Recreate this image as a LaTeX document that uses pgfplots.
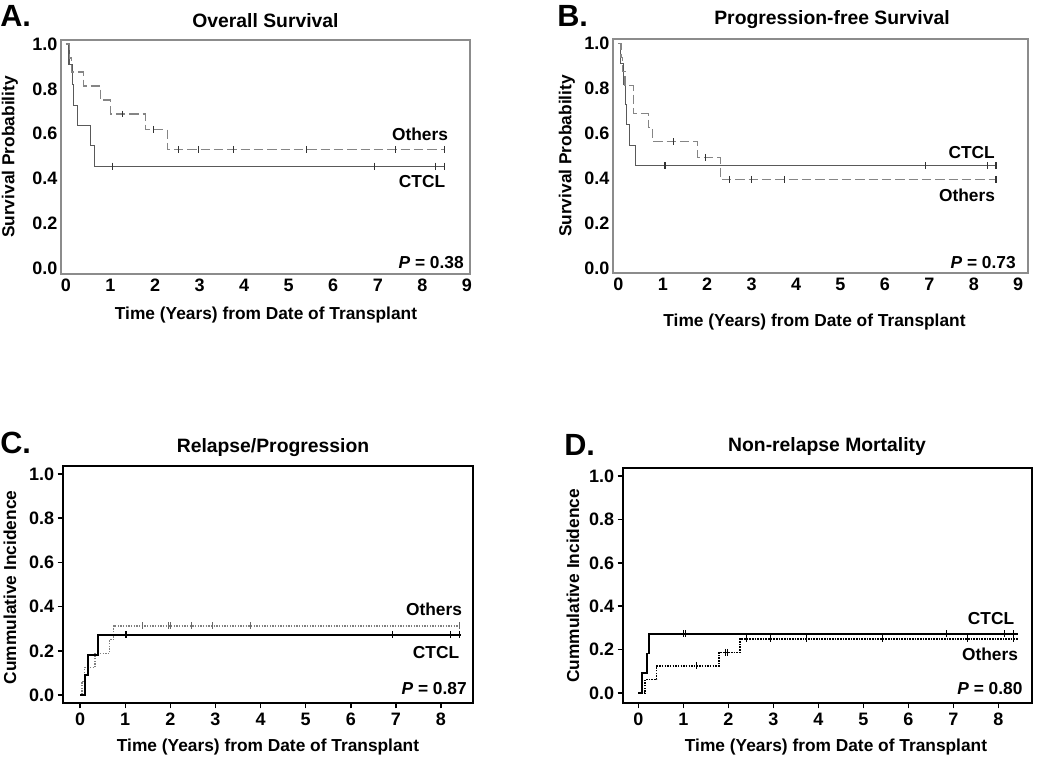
\documentclass[border=0pt]{standalone}
\usepackage{fontspec}
\setmainfont{Liberation Sans}
\usepackage{pgfplots}
\pgfplotsset{compat=1.18}
\definecolor{framegray}{gray}{0.55}
\definecolor{ctclgray}{gray}{0.35}
\definecolor{othgray}{gray}{0.52}
\definecolor{censgray}{gray}{0.2}
\pgfplotsset{
  km/.style={
    scale only axis, axis on top,
    /pgf/number format/assume math mode=true,
    /pgf/number format/fixed, /pgf/number format/fixed zerofill,
    tick label style={font=\fontsize{13.5}{13.5}\selectfont\bfseries},
    ytick={0,0.2,0.4,0.6,0.8,1.0},
    yticklabel style={/pgf/number format/precision=1, inner sep=2.5pt},
    xticklabel style={/pgf/number format/precision=0},
    clip=false,
  },
  kmtop/.style={km, axis line style={framegray, line width=0.8pt}, major tick length=0pt,
    xtick={0,...,9}},
  kmbot/.style={km, axis line style={black, line width=1.3pt}, tick pos=left, tick align=outside,
    major tick length=4pt, tick style={black, line width=1.1pt}, xtick={0,...,8}},
  cens/.style={only marks, mark=|, mark size=2.6pt, mark options={line width=0.8pt}},
}
\begin{document}
\begin{tikzpicture}
\useasboundingbox (0,0) rectangle (787.5pt,576pt);
% ---------------- A ----------------
\begin{axis}[kmtop, at={(45.75pt,370.5pt)}, anchor=south west, width=306.75pt, height=175.5pt,
  xmin=-0.11, xmax=9.07, ymin=-0.027, ymax=1.018]
\addplot[const plot, ctclgray, line width=0.8pt] coordinates {(0,1) (0.07,0.909) (0.14,0.818) (0.17,0.727) (0.25,0.636) (0.56,0.545) (0.64,0.455) (8.5,0.455)};
\addplot[const plot, othgray, line width=0.8pt, dash pattern=on 7pt off 3pt] coordinates {(0,1) (0.08,0.9375) (0.13,0.875) (0.40,0.8125) (0.77,0.75) (1.0,0.6875) (1.78,0.619) (2.27,0.53) (8.5,0.53)};
\addplot[cens, censgray] coordinates {(1.05,0.455) (6.92,0.455) (8.3,0.455) (8.5,0.455)};
\addplot[cens, censgray] coordinates {(1.27,0.6875) (1.97,0.619) (2.53,0.53) (2.98,0.53) (3.77,0.53) (5.40,0.53) (7.40,0.53) (8.49,0.53)};
\end{axis}
% ---------------- B ----------------
\begin{axis}[kmtop, at={(459.75pt,371.25pt)}, anchor=south west, width=311.25pt, height=175.5pt,
  xmin=-0.12, xmax=9.22, ymin=-0.022, ymax=1.018]
\addplot[const plot, ctclgray, line width=0.8pt] coordinates {(0,1) (0.05,0.909) (0.11,0.818) (0.17,0.727) (0.19,0.636) (0.25,0.545) (0.39,0.455) (8.5,0.455)};
\addplot[const plot, othgray, line width=0.8pt, dash pattern=on 7pt off 3pt] coordinates {(0,1) (0.06,0.9375) (0.10,0.875) (0.15,0.8125) (0.34,0.6875) (0.68,0.625) (0.77,0.5625) (1.79,0.492) (2.29,0.394) (8.5,0.394)};
\addplot[cens, censgray] coordinates {(1.05,0.455) (6.92,0.455) (8.31,0.455) (8.5,0.455)};
\addplot[cens, censgray] coordinates {(1.25,0.5625) (1.97,0.492) (2.51,0.394) (2.99,0.394) (3.75,0.394) (8.5,0.394)};
\end{axis}
% ---------------- C ----------------
\begin{axis}[kmbot, at={(47.25pt,48.75pt)}, anchor=south west, width=307.5pt, height=177.75pt,
  xmin=-0.38, xmax=8.71, ymin=-0.036, ymax=1.036]
\addplot[const plot, gray, line width=1.0pt, dash pattern=on 1pt off 1pt] coordinates {(0,0) (0.04,0.0625) (0.10,0.125) (0.33,0.1875) (0.65,0.25) (0.74,0.3125) (8.45,0.3125)};
\addplot[const plot, black, line width=1.4pt] coordinates {(0,0) (0.11,0.0909) (0.18,0.182) (0.39,0.273) (8.45,0.273)};
\addplot[cens, gray!80!black] coordinates {(1.39,0.3125) (1.96,0.3125) (2.0,0.3125) (2.47,0.3125) (2.93,0.3125) (3.77,0.3125) (8.41,0.3125)};
\addplot[cens, black] coordinates {(1.0,0.273) (1.03,0.273) (6.92,0.273) (8.21,0.273) (8.41,0.273)};
\end{axis}
% ---------------- D ----------------
\begin{axis}[kmbot, at={(467.25pt,48.75pt)}, anchor=south west, width=306.75pt, height=176.25pt,
  xmin=-0.34, xmax=8.75, ymin=-0.046, ymax=1.037]
\addplot[const plot, black, line width=1.1pt, dash pattern=on 1.2pt off 0.8pt] coordinates {(0,0) (0.15,0.0625) (0.41,0.125) (1.79,0.1875) (2.26,0.25) (8.43,0.25)};
\addplot[const plot, black, line width=1.4pt] coordinates {(0,0) (0.09,0.091) (0.185,0.182) (0.245,0.273) (8.43,0.273)};
\addplot[cens, black] coordinates {(1.3,0.125) (1.93,0.1875) (1.98,0.1875) (2.41,0.25) (2.94,0.25) (3.73,0.25) (5.43,0.25) (7.32,0.25) (8.33,0.25)};
\addplot[cens, black] coordinates {(1.01,0.273) (1.05,0.273) (6.85,0.273) (8.13,0.273) (8.33,0.273)};
\end{axis}
% ---------------- texts ----------------
\begin{scope}[x=0.75pt,y=0.75pt]
\def\PL{\fontsize{23}{23}\selectfont\bfseries}
\def\TT{\fontsize{14.5}{14.5}\selectfont\bfseries}
\def\LB{\fontsize{13}{13}\selectfont\bfseries}
% A
\node[anchor=west, inner sep=0] at (0,752) {\PL A.};
\node at (265.5,747) {\TT Overall Survival};
\node[rotate=90] at (10,611) {\LB Survival Probability};
\node at (266,453) {\LB Time (Years) from Date of Transplant};
\node at (420,634) {\LB Others};
\node at (422,586) {\LB CTCL};
\node[anchor=east, inner sep=0] at (464,505.5) {\LB\textit{P} = 0.38};
% B
\node[anchor=west, inner sep=0] at (557,752.5) {\PL B.};
\node at (832,748) {\TT Progression-free Survival};
\node[rotate=90] at (567,612) {\LB Survival Probability};
\node at (814.5,446.3) {\LB Time (Years) from Date of Transplant};
\node at (971.7,615.5) {\LB CTCL};
\node at (967,573) {\LB Others};
\node[anchor=east, inner sep=0] at (1016,505.5) {\LB\textit{P} = 0.73};
% C
\node[anchor=west, inner sep=0] at (0,325) {\PL C.};
\node at (273,320.5) {\TT Relapse/Progression};
\node[rotate=90] at (10,180.5) {\LB Cummulative Incidence};
\node at (268,21.3) {\LB Time (Years) from Date of Transplant};
\node at (434,159) {\LB Others};
\node at (436,115.5) {\LB CTCL};
\node[anchor=east, inner sep=0] at (467,79) {\LB\textit{P} = 0.87};
% D
\node[anchor=west, inner sep=0] at (564,323) {\PL D.};
\node at (827,321) {\TT Non-relapse Mortality};
\node[rotate=90] at (573,182.2) {\LB Cummulative Incidence};
\node at (836,21.3) {\LB Time (Years) from Date of Transplant};
\node at (991,149) {\LB CTCL};
\node at (990,113.5) {\LB Others};
\node[anchor=east, inner sep=0] at (1022.7,79) {\LB\textit{P} = 0.80};
\end{scope}
\end{tikzpicture}
\end{document}
